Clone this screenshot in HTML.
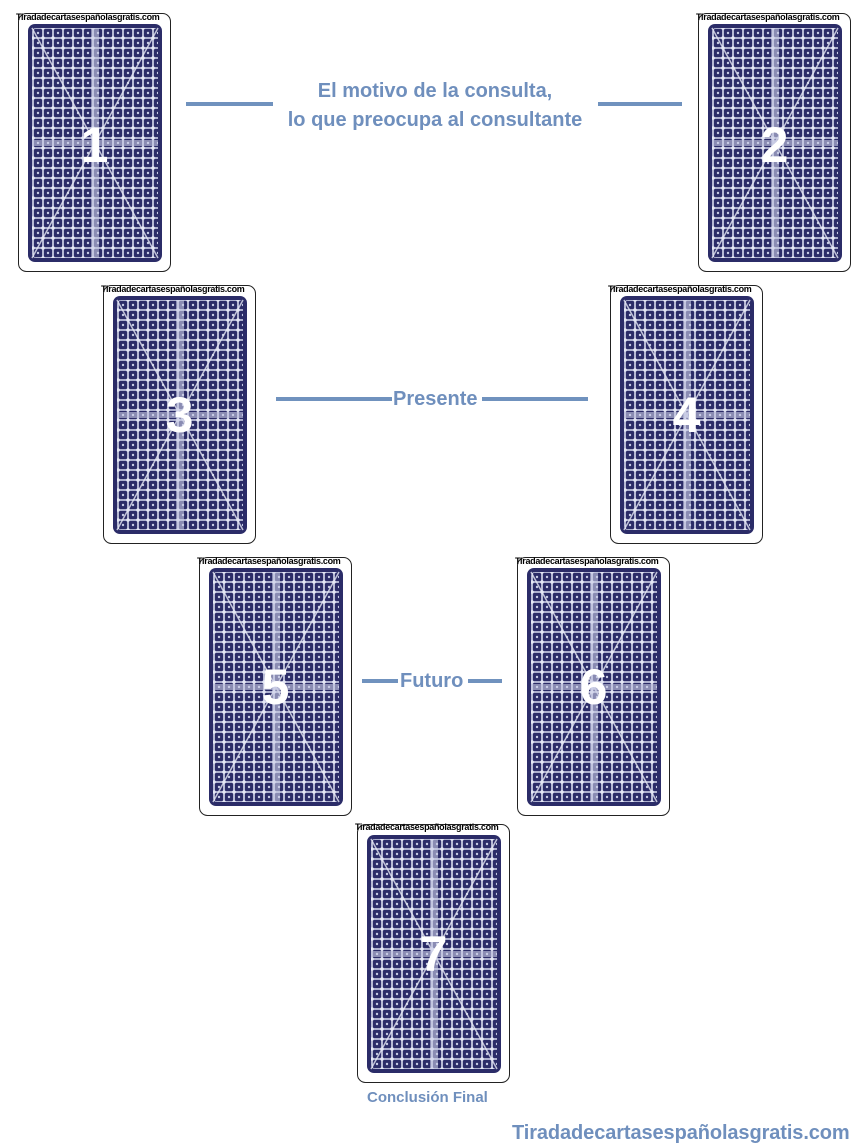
<!DOCTYPE html>
<html><head><meta charset="utf-8"><style>
body{margin:0;width:867px;height:1147px;background:#fff;position:relative;overflow:hidden;font-family:"Liberation Sans",sans-serif}
.c{position:absolute;width:153px;height:259px}
.w{position:absolute;font:bold 9px "Liberation Sans",sans-serif;color:#000;white-space:nowrap;letter-spacing:-0.3px}
.n{position:absolute;font:bold 50px "Liberation Sans",sans-serif;color:#fff;width:153px;text-align:center}
.l{position:absolute;height:4px;background:#7092be}
.t{position:absolute;color:#6f8fbd;font-weight:bold;white-space:nowrap}
</style></head><body>
<svg width="0" height="0" style="position:absolute"><defs>
<pattern id="p" width="10" height="10" patternUnits="userSpaceOnUse">
<rect width="10" height="10" fill="#2b2c68"/>
<path d="M0 5H10M5 0V10" stroke="#d8dcef" stroke-width="1.6"/>
<circle cx="5" cy="5" r="1.8" fill="#e4e7f5"/>
<circle cx="0" cy="0" r="1.2" fill="#c8cde6"/><circle cx="10" cy="0" r="1.2" fill="#c8cde6"/><circle cx="0" cy="10" r="1.2" fill="#c8cde6"/><circle cx="10" cy="10" r="1.2" fill="#c8cde6"/>
</pattern>
<g id="card">
<rect x="0.5" y="0.5" width="152" height="258" rx="8" fill="#fff" stroke="#222"/>
<rect x="10" y="11" width="134" height="238" rx="7" fill="#2b2c68"/>
<rect x="14" y="15" width="126" height="230" rx="4" fill="url(#p)"/>
<path d="M14 15L140 245M140 15L14 245" stroke="#e6e8f4" stroke-width="1.5" opacity=".8"/>
<rect x="73" y="15" width="8" height="230" fill="#c9cde6" opacity=".6"/>
<rect x="14" y="127" width="126" height="6" fill="#c9cde6" opacity=".6"/>
</g></defs></svg>

<svg class="c" style="left:18px;top:13px"><use href="#card"/></svg>
<svg class="c" style="left:698px;top:13px"><use href="#card"/></svg>
<svg class="c" style="left:103px;top:285px"><use href="#card"/></svg>
<svg class="c" style="left:610px;top:285px"><use href="#card"/></svg>
<svg class="c" style="left:199px;top:557px"><use href="#card"/></svg>
<svg class="c" style="left:517px;top:557px"><use href="#card"/></svg>
<svg class="c" style="left:357px;top:824px"><use href="#card"/></svg>

<div class="w" style="left:16px;top:12px">Tiradadecartasespañolasgratis.com</div>
<div class="w" style="left:696px;top:12px">Tiradadecartasespañolasgratis.com</div>
<div class="w" style="left:101px;top:284px">Tiradadecartasespañolasgratis.com</div>
<div class="w" style="left:608px;top:284px">Tiradadecartasespañolasgratis.com</div>
<div class="w" style="left:197px;top:556px">Tiradadecartasespañolasgratis.com</div>
<div class="w" style="left:515px;top:556px">Tiradadecartasespañolasgratis.com</div>
<div class="w" style="left:355px;top:822px">Tiradadecartasespañolasgratis.com</div>

<div class="n" style="left:18px;top:116px">1</div>
<div class="n" style="left:698px;top:116px">2</div>
<div class="n" style="left:103px;top:386px">3</div>
<div class="n" style="left:610px;top:386px">4</div>
<div class="n" style="left:199px;top:658px">5</div>
<div class="n" style="left:517px;top:658px">6</div>
<div class="n" style="left:357px;top:925px">7</div>

<div class="l" style="left:186px;top:102px;width:87px"></div>
<div class="l" style="left:598px;top:102px;width:84px"></div>
<div class="t" style="left:270px;top:77px;width:330px;text-align:center;font-size:20px;line-height:29px">El motivo de la consulta,<br>lo que preocupa al consultante</div>
<div class="l" style="left:276px;top:397px;width:116px"></div>
<div class="l" style="left:482px;top:397px;width:106px"></div>
<div class="t" style="left:393px;top:388px;font-size:20px">Presente</div>
<div class="l" style="left:362px;top:679px;width:36px"></div>
<div class="l" style="left:468px;top:679px;width:34px"></div>
<div class="t" style="left:400px;top:670px;font-size:20px">Futuro</div>
<div class="t" style="left:367px;top:1089px;font-size:15px">Conclusión Final</div>
<div class="t" style="left:512px;top:1122px;font-size:20px;letter-spacing:-0.1px">Tiradadecartasespañolasgratis.com</div>
</body></html>
